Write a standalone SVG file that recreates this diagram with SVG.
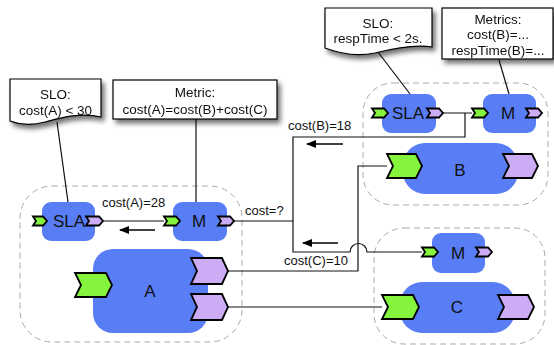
<svg xmlns="http://www.w3.org/2000/svg" width="554" height="345" viewBox="0 0 554 345">
<defs>
<filter id="sh" x="-20%" y="-20%" width="150%" height="160%">
<feGaussianBlur in="SourceAlpha" stdDeviation="2.5"/>
<feOffset dx="3" dy="4" result="b"/>
<feComponentTransfer><feFuncA type="linear" slope="0.55"/></feComponentTransfer>
<feMerge><feMergeNode/><feMergeNode in="SourceGraphic"/></feMerge>
</filter>
<marker id="ah" viewBox="0 0 10 8" refX="9" refY="4" markerWidth="10" markerHeight="8" markerUnits="userSpaceOnUse" orient="auto">
<path d="M0,0 L10,4 L0,8 Z" fill="#000"/>
</marker>
</defs>
<style>
text{font-family:"Liberation Sans",Arial,sans-serif;fill:#111}
.box{fill:#fff;stroke:#000;stroke-width:1.2}
.ct{font-size:13.5px;text-anchor:middle}
.lb{font-size:13px}
.nt{font-size:17px;text-anchor:middle}
.node{fill:#587df5}
.grp{fill:none;stroke:#aaa;stroke-width:1;stroke-dasharray:6,4}
.pg{fill:#84f53c;stroke:#000;stroke-width:1.8;stroke-linejoin:miter}
.pp{fill:#cbacf5;stroke:#000;stroke-width:1.8;stroke-linejoin:miter}
.ln{fill:none;stroke:#111;stroke-width:1.2}
.ar{fill:none;stroke:#000;stroke-width:1.5;marker-end:url(#ah)}
</style>

<!-- group containers -->
<g id="groupA"><rect class="grp" x="20" y="186" width="222" height="156" rx="32"/></g>
<g id="groupB"><rect class="grp" x="363" y="83" width="185" height="122" rx="30"/></g>
<g id="groupC"><rect class="grp" x="374" y="228" width="171" height="116" rx="30"/></g>

<!-- connectors -->
<g id="connectors">
<line class="ln" x1="57" y1="122" x2="68" y2="202"/>
<line class="ln" x1="196" y1="119" x2="196" y2="202"/>
<line class="ln" x1="378" y1="52" x2="410" y2="94"/>
<line class="ln" x1="499" y1="60" x2="509" y2="94"/>
<line class="ln" x1="103" y1="221" x2="164" y2="221"/>
<line class="ln" x1="234" y1="221" x2="293" y2="221"/>
<path class="ln" d="M443,113 H472 M465,113 V137 H293 V252 H350 A8.5,8.5 0 0 1 367,252 H422"/>
<path class="ln" d="M228,271 H358 V166 H387"/>
<line class="ln" x1="228" y1="307" x2="382" y2="307"/>
<line class="ar" x1="155" y1="230" x2="120" y2="230"/>
<line class="ar" x1="343" y1="144" x2="307" y2="144"/>
<line class="ar" x1="338" y1="243" x2="303" y2="243"/>
<text class="lb" x="102" y="207">cost(A)=28</text>
<text class="lb" x="288" y="130">cost(B)=18</text>
<text class="lb" x="245" y="215">cost=?</text>
<text class="lb" x="284" y="265">cost(C)=10</text>
</g>

<!-- callouts -->
<g id="sloA" filter="url(#sh)">
<path class="box" d="M10,79 H101 V117 C80,112 60,118 45,122 C30,126 18,124 10,121 Z"/>
<text class="ct" x="55.5" y="99">SLO:</text>
<text class="ct" x="55.5" y="115">cost(A) &lt; 30</text>
</g>
<g id="metricA" filter="url(#sh)">
<rect class="box" x="113" y="80" width="164" height="39"/>
<text class="ct" x="195" y="97">Metric:</text>
<text class="ct" x="195" y="114">cost(A)=cost(B)+cost(C)</text>
</g>
<g id="sloB" filter="url(#sh)">
<path class="box" d="M325,8 H432 V47 C415,44 395,48 375,53 C355,57 338,53 325,48 Z"/>
<text class="ct" x="378" y="28">SLO:</text>
<text class="ct" x="378" y="43">respTime &lt; 2s.</text>
</g>
<g id="metricsB" filter="url(#sh)">
<rect class="box" x="442" y="8" width="111" height="51"/>
<text class="ct" x="498" y="24">Metrics:</text>
<text class="ct" x="498" y="39">cost(B)=...</text>
<text class="ct" x="498" y="55">respTime(B)=...</text>
</g>

<!-- nodes A group -->
<g id="slaA">
<rect class="node" x="42" y="202" width="53" height="39" rx="9"/>
<polygon class="pg" points="33,216.5 43,216.5 47,221 43,225.5 33,225.5 36,221"/>
<polygon class="pp" points="86,216.5 99,216.5 103,221 99,225.5 86,225.5 89,221"/>
<text class="nt" x="69" y="227">SLA</text>
</g>
<g id="mA">
<rect class="node" x="173" y="202" width="54" height="39" rx="9"/>
<polygon class="pg" points="164,216.5 176,216.5 180,221 176,225.5 164,225.5 167,221"/>
<polygon class="pp" points="218,216.5 230,216.5 234,221 230,225.5 218,225.5 221,221"/>
<text class="nt" x="199" y="227">M</text>
</g>
<g id="nodeA">
<rect class="node" x="93" y="249" width="115" height="84" rx="20"/>
<polygon class="pg" points="75,273 106,273 112,285 106,297 75,297 81,285"/>
<polygon class="pp" points="191,258 222,258 228,271 222,284 191,284 197,271"/>
<polygon class="pp" points="191,294 222,294 228,307 222,320 191,320 197,307"/>
<text class="nt" x="150" y="297">A</text>
</g>

<!-- nodes B group -->
<g id="slaB">
<rect class="node" x="382" y="94" width="54" height="39" rx="9"/>
<polygon class="pg" points="372,108.5 384,108.5 388,113 384,117.5 372,117.5 375,113"/>
<polygon class="pp" points="427,108.5 439,108.5 443,113 439,117.5 427,117.5 430,113"/>
<text class="nt" x="408" y="119">SLA</text>
</g>
<g id="mB">
<rect class="node" x="483" y="94" width="53" height="39" rx="9"/>
<polygon class="pg" points="472,108.5 484,108.5 488,113 484,117.5 472,117.5 475,113"/>
<polygon class="pp" points="526,108.5 538,108.5 542,113 538,117.5 526,117.5 529,113"/>
<text class="nt" x="508" y="119">M</text>
</g>
<g id="nodeB">
<rect class="node" x="403" y="143" width="115" height="51" rx="22"/>
<polygon class="pg" points="387,154 416,154 422,166 416,178 387,178 393,166"/>
<polygon class="pp" points="503,154 532,154 538,166 532,178 503,178 509,166"/>
<text class="nt" x="460" y="176">B</text>
</g>

<!-- nodes C group -->
<g id="mC">
<rect class="node" x="432" y="233" width="53" height="40" rx="9"/>
<polygon class="pg" points="422,247.5 434,247.5 438,252 434,256.5 422,256.5 425,252"/>
<polygon class="pp" points="476,247.5 488,247.5 492,252 488,256.5 476,256.5 479,252"/>
<text class="nt" x="458" y="259">M</text>
</g>
<g id="nodeC">
<rect class="node" x="400" y="282" width="115" height="51" rx="22"/>
<polygon class="pg" points="382,295 413,295 419,307 413,319 382,319 388,307"/>
<polygon class="pp" points="498,295 528,295 534,307 528,319 498,319 504,307"/>
<text class="nt" x="457" y="313">C</text>
</g>
</svg>
